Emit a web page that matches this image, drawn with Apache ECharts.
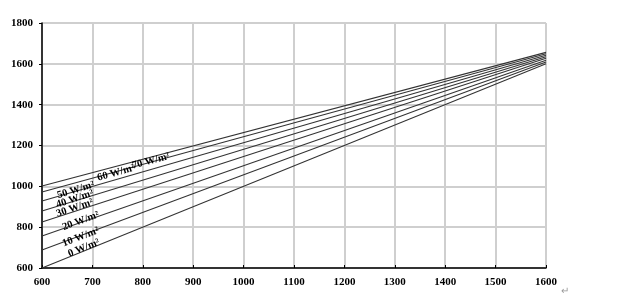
<!DOCTYPE html>
<html>
<head>
<meta charset="utf-8">
<script src="https://cdn.jsdelivr.net/npm/echarts@6/dist/echarts.min.js"></script>
<style>
html,body{margin:0;padding:0;background:#fff;}
#chart{width:626px;height:307px;}
</style>
</head>
<body>
<div id="chart"></div>
<script>
// X values (start, end) for each line
const xValues = [600, 1600];
// Series names (solar flux)
const seriesNames = ['0 W/m²','10 W/m²','20 W/m²','30 W/m²','40 W/m²','50 W/m²','60 W/m²','70 W/m²'];
// Y values at x=600 and x=1600 for each series
const yAt600  = [600, 688, 757, 825, 879, 928, 972, 1002];
const yAt1600 = [1600, 1609, 1618, 1627, 1635, 1642, 1649, 1656];
// Label anchor positions (data coords) for each series annotation
const labelX = [683, 677, 677, 665, 665, 667, 747, 816];
const labelY = [698, 752, 830, 894, 938, 982, 1066, 1124];
const labelRot = [22, 21, 20, 19, 18, 17, 16, 15];
const labelTexts = ['0 W/m²','10 W/m²','20 W/m²','30 W/m²','40 W/m²','50 W/m²','60 W/m²','70 W/m²'];

const FONT = '"Liberation Serif", "Times New Roman", serif';

const series = seriesNames.map((name, i) => ({
  name: name,
  type: 'line',
  symbol: 'none',
  silent: true,
  lineStyle: { color: '#333333', width: 1.1 },
  data: [[xValues[0], yAt600[i]], [xValues[1], yAt1600[i]]],
  markPoint: {
    symbol: 'circle', symbolSize: 0,
    data: [{
      coord: [labelX[i], labelY[i]],
      label: {
        show: true, formatter: labelTexts[i], position: 'inside',
        rotate: labelRot[i], color: '#000', fontFamily: FONT,
        fontWeight: 'bold', fontSize: 10.5
      }
    }]
  }
}));

const chart = echarts.init(document.getElementById('chart'), null, { renderer: 'canvas' });
chart.setOption({
  animation: false,
  backgroundColor: '#fff',
  grid: { left: 42, right: 80, top: 23, bottom: 39, containLabel: false },
  xAxis: {
    type: 'value', min: 600, max: 1600, interval: 100,
    axisLine: { show: true, onZero: false, lineStyle: { color: '#000', width: 1.5 } },
    axisTick: { show: true, inside: true, length: 3, lineStyle: { color: '#000' } },
    splitLine: { show: true, lineStyle: { color: '#cfcfcf', width: 2 } },
    axisLabel: { color: '#000', fontFamily: FONT, fontWeight: 'bold', fontSize: 11, margin: 9,
      formatter: v => String(v) }
  },
  yAxis: {
    type: 'value', min: 600, max: 1800, interval: 200,
    axisLine: { show: true, onZero: false, lineStyle: { color: '#000', width: 1.5 } },
    axisTick: { show: true, length: 3, lineStyle: { color: '#000' } },
    splitLine: { show: true, lineStyle: { color: '#cfcfcf', width: 2 } },
    axisLabel: { color: '#000', fontFamily: FONT, fontWeight: 'bold', fontSize: 11, margin: 9,
      formatter: v => String(v) }
  },
  graphic: [{
    type: 'text', left: 561, top: 286,
    style: { text: '↵', fill: '#999', fontSize: 10, fontFamily: FONT }
  }],
  series: series
});
</script>
</body>
</html>
